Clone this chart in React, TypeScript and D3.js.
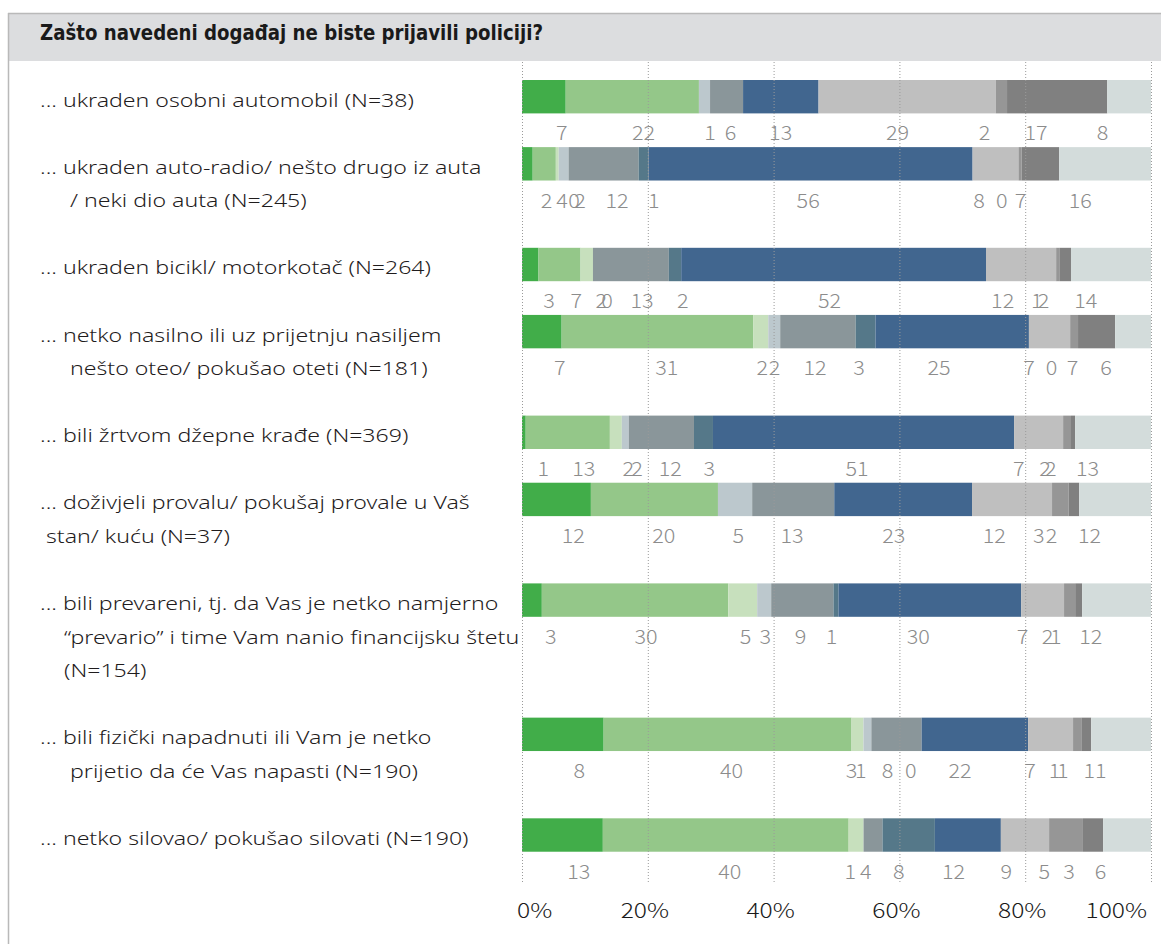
import React from 'react';
import * as d3 from 'd3';

const title = 'Zašto navedeni događaj ne biste prijavili policiji?';

const categories: string[][] = [
  ['... ukraden osobni automobil (N=38)'],
  ['... ukraden auto-radio/ nešto drugo iz auta', '     / neki dio auta (N=245)'],
  ['... ukraden bicikl/ motorkotač (N=264)'],
  ['... netko nasilno ili uz prijetnju nasiljem', '     nešto oteo/ pokušao oteti (N=181)'],
  ['... bili žrtvom džepne krađe (N=369)'],
  ['... doživjeli provalu/ pokušaj provale u Vaš', ' stan/ kuću (N=37)'],
  ['... bili prevareni, tj. da Vas je netko namjerno', '    “prevario” i time Vam nanio financijsku štetu', '    (N=154)'],
  ['... bili fizički napadnuti ili Vam je netko', '     prijetio da će Vas napasti (N=190)'],
  ['... netko silovao/ pokušao silovati (N=190)'],
];

const seriesKeys = ['s1', 's2', 's3', 's4', 's5', 's6', 's7', 's8', 's9', 's10', 's11'];
const seriesColors = ['#41ad49', '#94c789', '#c7e0bd', '#bcc8cd', '#8a969a', '#557889', '#41668f', '#bfbfbf', '#969696', '#808080', '#d3dcdb'];

// bar shares (% of each bar)
const s1 = [6.95, 1.7, 2.62, 6.3, 0.59, 10.95, 3.15, 12.98, 12.85];
const s2 = [21.18, 3.68, 6.69, 30.49, 13.38, 20.2, 29.64, 39.41, 39.08];
const s3 = [0, 0.46, 1.97, 2.36, 1.9, 0, 4.59, 1.9, 2.37];
const s4 = [1.77, 1.57, 0, 1.9, 1.11, 5.44, 2.23, 1.25, 0];
const s5 = [5.25, 11.15, 12.06, 12.0, 10.36, 13.05, 9.9, 8.0, 3.01];
const s6 = [0, 1.57, 1.97, 3.15, 3.02, 0, 0.79, 0, 8.33];
const s7 = [12.0, 51.54, 48.46, 24.39, 47.87, 21.9, 29.04, 16.92, 10.49];
const s8 = [28.2, 7.3, 11.15, 6.56, 7.8, 12.72, 6.82, 7.15, 7.67];
const s9 = [1.77, 0.5, 0.59, 1.25, 1.25, 2.62, 1.77, 1.31, 5.38];
const s10 = [15.94, 5.96, 1.77, 5.9, 0.65, 1.7, 1.1, 1.57, 3.21];
const s11 = [6.95, 14.62, 12.72, 5.7, 12.07, 11.41, 10.95, 9.51, 7.61];

// printed numbers under the bars (null = no number shown)
const n1 = [7, 2, 3, 7, 1, 12, 3, 8, 13];
const n2 = [22, 4, 7, 31, 13, 20, 30, 40, 40];
const n3 = [null, 0, 2, 2, 2, null, 5, 3, 1];
const n4 = [1, 2, 0, 2, 2, 5, 3, 1, null];
const n5 = [6, 12, 13, 12, 12, 13, 9, 8, 4];
const n6 = [null, 1, 2, 3, 3, null, 1, 0, 8];
const n7 = [13, 56, 52, 25, 51, 23, 30, 22, 12];
const n8 = [29, 8, 12, 7, 7, 12, 7, 7, 9];
const n9 = [2, 0, 1, 0, 2, 3, 2, 1, 5];
const n10 = [17, 7, 2, 7, 2, 2, 1, 1, 3];
const n11 = [8, 16, 14, 6, 13, 12, 12, 11, 6];

const tickValues = [0, 0.2, 0.4, 0.6, 0.8, 1];
const tickLabels = ['0%', '20%', '40%', '60%', '80%', '100%'];

const shares = [s1, s2, s3, s4, s5, s6, s7, s8, s9, s10, s11];
const printed = [n1, n2, n3, n4, n5, n6, n7, n8, n9, n10, n11];

const W = 1161;
const H = 944;
const NUMFONT = '"Noto Sans CJK JP", "Noto Sans", sans-serif';
const TXTFONT = '"Noto Sans", Roboto, sans-serif';

export default function App() {
  const table = categories.map((_, i) => {
    const row: Record<string, number> = {};
    seriesKeys.forEach((k, j) => { row[k] = shares[j][i]; });
    return row;
  });
  const stacked = d3.stack<Record<string, number>>().keys(seriesKeys).offset(d3.stackOffsetExpand)(table);

  const x = d3.scaleLinear().domain([0, 1]).range([522, 1151]);
  const labelX = d3.scaleLinear().domain([0, 1]).range([x(0.031), x(0.955)]);

  // row positions in line units: each row takes (lines + 1) units
  const unit = 33.56;
  const offsets: number[] = [];
  let acc = 0;
  categories.forEach((c) => { offsets.push(acc); acc += c.length + 1; });
  const y = d3.scaleLinear().domain([0, 1]).range([80, 80 + unit]);
  const barH = 33.4;

  return (
    <svg width={W} height={H} style={{ position: 'absolute', left: 0, top: 0, background: '#fff' }}>
      <rect x={8} y={13} width={W - 8} height={48} fill="#dcdddf" />
      <line x1={8} x2={W} y1={13.5} y2={13.5} stroke="#b9b9b9" strokeWidth={1.5} />
      <line x1={8.5} x2={8.5} y1={13} y2={H} stroke="#b9b9b9" strokeWidth={1.5} />
      <text x={40} y={40} fontFamily='"Liberation Sans Narrow", "DejaVu Sans Condensed", sans-serif' fontWeight="bold" fontSize={20.5} fill="#1a1a1a" textLength={503} lengthAdjust="spacingAndGlyphs">{title}</text>

      {categories.map((lines, i) => (
        <text key={'c' + i} transform="translate(40,0) scale(1.215,1)" fontFamily={TXTFONT} fontSize={19} fontWeight={300} fill="#1f1c1d" style={{ whiteSpace: 'pre' }}>
          {lines.map((ln, k) => (
            <tspan key={k} x={0} y={y(offsets[i]) + barH / 2 + 10 + k * unit}>{ln}</tspan>
          ))}
        </text>
      ))}

      {stacked.map((ser, j) => (
        <g key={ser.key} fill={seriesColors[j]}>
          {ser.map((d, i) => (
            <rect key={i} x={x(d[0])} y={y(offsets[i])} width={Math.max(0, x(d[1]) - x(d[0]))} height={barH} />
          ))}
        </g>
      ))}

      {tickValues.map((t) => (
        <line key={'g' + t} x1={x(t) + 0.5} x2={x(t) + 0.5} y1={62} y2={884} stroke="#9a9a9a" strokeWidth={1} strokeDasharray="1 2" />
      ))}

      {stacked.map((ser, j) => (
        <g key={'n' + ser.key} fontFamily={NUMFONT} fontSize={20} fontWeight={300} fill="#8c8c8c" textAnchor="middle">
          {ser.map((d, i) => {
            const v = printed[j][i];
            if (v === null || v === undefined) return null;
            const cx = labelX((d[0] + d[1]) / 2);
            const cy = y(offsets[i]) + barH + 27;
            return (
              <text key={i} transform={`translate(${cx},${cy}) scale(1.08,1)`}>{v}</text>
            );
          })}
        </g>
      ))}

      {tickValues.map((t, i) => {
        const last = i === tickValues.length - 1;
        const first = i === 0;
        const tx = first ? x(t) - 5 : last ? x(t) - 4 : x(t) - 3;
        return (
          <text key={'t' + t} transform={`translate(${tx},918) scale(1.2,1)`}
            textAnchor={first ? 'start' : last ? 'end' : 'middle'}
            fontFamily={NUMFONT} fontSize={20.5} fontWeight={300} fill="#1a1a1a">{tickLabels[i]}</text>
        );
      })}
    </svg>
  );
}
